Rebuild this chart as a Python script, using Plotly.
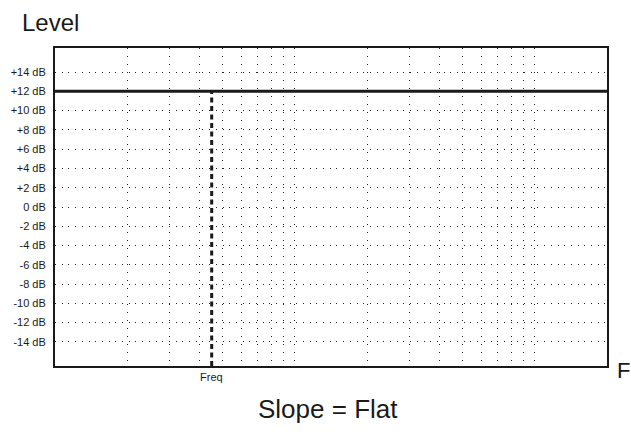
"""Flat-slope level editor grid: level ticks, log frequency grid, marker line."""

import plotly.graph_objects as go

# values
level_ticks = [14, 12, 10, 8, 6, 4, 2, 0, -2, -4, -6, -8, -10, -12, -14]
level_labels = ["+14 dB", "+12 dB", "+10 dB", "+8 dB", "+6 dB", "+4 dB", "+2 dB", "0 dB",
                "-2 dB", "-4 dB", "-6 dB", "-8 dB", "-10 dB", "-12 dB", "-14 dB"]
level_range = [-16.5, 16.5]
freq_grid = [2, 3, 4, 5, 6, 7, 8, 9, 10, 20, 30, 40, 50, 60, 70, 80, 90, 100]
freq_range = [1, 200]
marker_freq = 4.5
flat_level = 12

INK = "#1a1a1a"
FONT = "Liberation Sans, Arial, sans-serif"

fig = go.Figure()

# flat level line across the full band
fig.add_trace(go.Scatter(
    x=freq_range, y=[flat_level, flat_level], mode="lines",
    line={"color": INK, "width": 3}, showlegend=False, hoverinfo="skip",
))
# frequency marker, dashed, from the bottom up to the level line
fig.add_trace(go.Scatter(
    x=[marker_freq, marker_freq], y=[level_range[0], flat_level], mode="lines",
    line={"color": INK, "width": 3, "dash": "5px,3.5px"}, showlegend=False, hoverinfo="skip",
))

fig.update_xaxes(
    type="log", range=[0, 2.30103],
    tickvals=freq_grid, ticktext=[""] * len(freq_grid),
    showgrid=True, gridcolor="#222", gridwidth=1, griddash="1px,7px",
    showline=True, mirror=True, linecolor=INK, linewidth=2,
    zeroline=False, ticks="",
)
fig.update_yaxes(
    range=level_range,
    tickvals=level_ticks, ticktext=level_labels,
    tickfont={"size": 11, "color": INK, "family": FONT},
    ticklabelstandoff=5,
    showgrid=True, gridcolor="#222", gridwidth=1, griddash="1px,5.7px",
    showline=True, mirror=True, linecolor=INK, linewidth=2,
    zeroline=False, ticks="",
)

fig.add_annotation(text="Level", xref="paper", yref="paper", x=0, y=1,
                   xanchor="left", yanchor="middle", xshift=-35, yshift=26,
                   showarrow=False, font={"size": 24, "color": INK, "family": FONT})
fig.add_annotation(text="Slope = Flat", xref="paper", yref="paper", x=0.5, y=0,
                   xanchor="center", yanchor="middle", xshift=-3, yshift=-43,
                   showarrow=False, font={"size": 26, "color": INK, "family": FONT})
fig.add_annotation(text="F", xref="paper", yref="paper", x=1, y=0,
                   xanchor="left", yanchor="middle", xshift=8, yshift=-4,
                   showarrow=False, font={"size": 22, "color": INK, "family": FONT})
fig.add_annotation(text="Freq", xref="x", yref="paper", x=0.653, y=0,
                   xanchor="center", yanchor="top", yshift=-3,
                   showarrow=False, font={"size": 11, "color": INK, "family": FONT})

fig.update_layout(
    width=631, height=445,
    margin={"l": 55, "r": 24, "t": 48, "b": 79},
    paper_bgcolor="white", plot_bgcolor="white",
    font={"family": FONT, "color": INK},
)

fig.write_html("out.html", config={"displayModeBar": False},
               post_script="document.body.style.margin='0';")
